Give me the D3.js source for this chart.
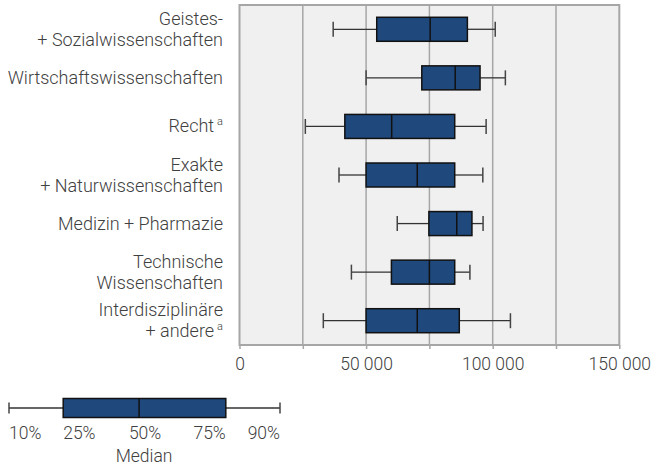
<!DOCTYPE html>
<html><head><meta charset="utf-8">
<script src="https://cdn.jsdelivr.net/npm/d3@7"></script>
<style>
html,body{margin:0;padding:0;background:#fff;}
svg text{font-family:Roboto,"Noto Sans",sans-serif;font-weight:300;fill:#404040;}
</style></head>
<body><svg id="c" width="664" height="468"></svg>
<script>
// categories (lines split with "\n"; "^a" marks superscript footnote)
const categories = [
  "Geistes-\n+ Sozialwissenschaften",
  "Wirtschaftswissenschaften",
  "Recht^a",
  "Exakte\n+ Naturwissenschaften",
  "Medizin + Pharmazie",
  "Technische\nWissenschaften",
  "Interdisziplinäre\n+ andere^a"
];
const p10 = [37000, 50000, 26000, 39300, 62300, 44200, 33100];
const p25 = [54200, 72000, 41600, 50000, 74800, 60000, 50000];
const p50 = [75300, 85200, 60100, 70200, 85800, 75000, 70200];
const p75 = [90000, 95000, 85000, 85000, 91800, 85000, 86800];
const p90 = [101000, 105000, 97400, 96100, 96200, 91000, 107000];
const tickValues = [0, 25000, 50000, 75000, 100000, 125000, 150000];
const tickLabels = ["0", "", "50 000", "", "100 000", "", "150 000"];
// legend example
const legendLabels = ["10%", "25%", "50%", "75%", "90%"];
const legendValues = [0, 20, 48, 80, 100];
const legendTitle = "Median";

const FS = 17.5, FC = 18;
const svg = d3.select("#c");
const L = 239.5, R = 619.3, T = 5, B = 345;
const x = d3.scaleLinear().domain([0, 150000]).range([L, R]);
const y = d3.scaleBand().domain(categories).range([T, B]).paddingInner(0).paddingOuter(0);
const boxH = 24, capH = 15;
const fill = "#1f497d";

// background
svg.append("rect").attr("x", L).attr("y", T).attr("width", R - L).attr("height", B - T).attr("fill", "#f0f0f0");
// gridlines
svg.append("g").selectAll("line").data(tickValues.slice(1, -1)).join("line")
  .attr("x1", d => x(d)).attr("x2", d => x(d)).attr("y1", T).attr("y2", B)
  .attr("stroke", "#a6a6a6").attr("stroke-width", 1.5);
// x axis ticks
const ax = svg.append("g").attr("transform", `translate(0,${B})`)
  .call(d3.axisBottom(x).tickValues(tickValues).tickFormat((d, i) => tickLabels[i]).tickSize(4).tickPadding(9));
ax.select(".domain").remove();
ax.selectAll(".tick line").attr("stroke", "#a6a6a6").attr("stroke-width", 1.5);
ax.selectAll(".tick text").attr("font-size", FS).attr("fill", "#404040").attr("font-family", "Roboto").attr("font-weight", 300);
// border
svg.append("rect").attr("x", L).attr("y", T).attr("width", R - L).attr("height", B - T)
  .attr("fill", "none").attr("stroke", "#a6a6a6").attr("stroke-width", 2);

const rows = categories.map((c, i) => ({c, a: p10[i], b: p25[i], m: p50[i], d: p75[i], e: p90[i]}));
const g = svg.append("g").selectAll("g").data(rows).join("g")
  .attr("transform", r => `translate(0,${y(r.c) + y.bandwidth() / 2})`);

function drawBox(sel, sx, bh, ch) {
  sel.append("line").attr("x1", r => sx(r.a)).attr("x2", r => sx(r.b)).attr("y1", 0).attr("y2", 0).attr("stroke", "#333").attr("stroke-width", 1.3);
  sel.append("line").attr("x1", r => sx(r.d)).attr("x2", r => sx(r.e)).attr("y1", 0).attr("y2", 0).attr("stroke", "#333").attr("stroke-width", 1.3);
  sel.append("line").attr("x1", r => sx(r.a)).attr("x2", r => sx(r.a)).attr("y1", -ch / 2).attr("y2", ch / 2).attr("stroke", "#444").attr("stroke-width", 1.5);
  sel.append("line").attr("x1", r => sx(r.e)).attr("x2", r => sx(r.e)).attr("y1", -ch / 2).attr("y2", ch / 2).attr("stroke", "#444").attr("stroke-width", 1.5);
  sel.append("rect").attr("x", r => sx(r.b)).attr("width", r => sx(r.d) - sx(r.b)).attr("y", -bh / 2).attr("height", bh)
    .attr("fill", fill).attr("stroke", "#111").attr("stroke-width", 1.5);
  sel.append("line").attr("x1", r => sx(r.m)).attr("x2", r => sx(r.m)).attr("y1", -bh / 2).attr("y2", bh / 2).attr("stroke", "#111").attr("stroke-width", 1.5);
}
drawBox(g, x, boxH, capH);

// category labels
const lh = 21;
g.each(function (r) {
  const lines = r.c.split("\n");
  const t = d3.select(this).append("text").attr("text-anchor", "end").attr("font-size", FC);
  lines.forEach((ln, j) => {
    const sup = ln.endsWith("^a");
    const txt = sup ? ln.slice(0, -2) : ln;
    t.append("tspan").attr("x", 223).attr("y", (j - (lines.length - 1) / 2) * lh + 6).text(txt);
    if (sup) {
      t.append("tspan").attr("dx", 3).attr("dy", -7).attr("font-size", 11).text("a");
    }
  });
});

// legend
const lx = d3.scaleLinear().domain([0, 100]).range([9, 280]);
const lg = svg.append("g").attr("transform", "translate(0,408)");
const lr = [{a: legendValues[0], b: legendValues[1], m: legendValues[2], d: legendValues[3], e: legendValues[4]}];
drawBox(lg.selectAll("g").data(lr).join("g"), lx, 19, 11);
const anchors = ["start", "start", "middle", "end", "end"];
lg.selectAll("text.pl").data(legendLabels).join("text").attr("class", "pl")
  .attr("x", (d, i) => lx(legendValues[i]) + (i === 2 ? 6 : 0))
  .attr("y", 31).attr("text-anchor", (d, i) => anchors[i]).attr("font-size", FS).text(d => d);
lg.append("text").attr("x", lx(legendValues[2]) + 5).attr("y", 54).attr("text-anchor", "middle").attr("font-size", FS).text(legendTitle);
</script></body></html>
